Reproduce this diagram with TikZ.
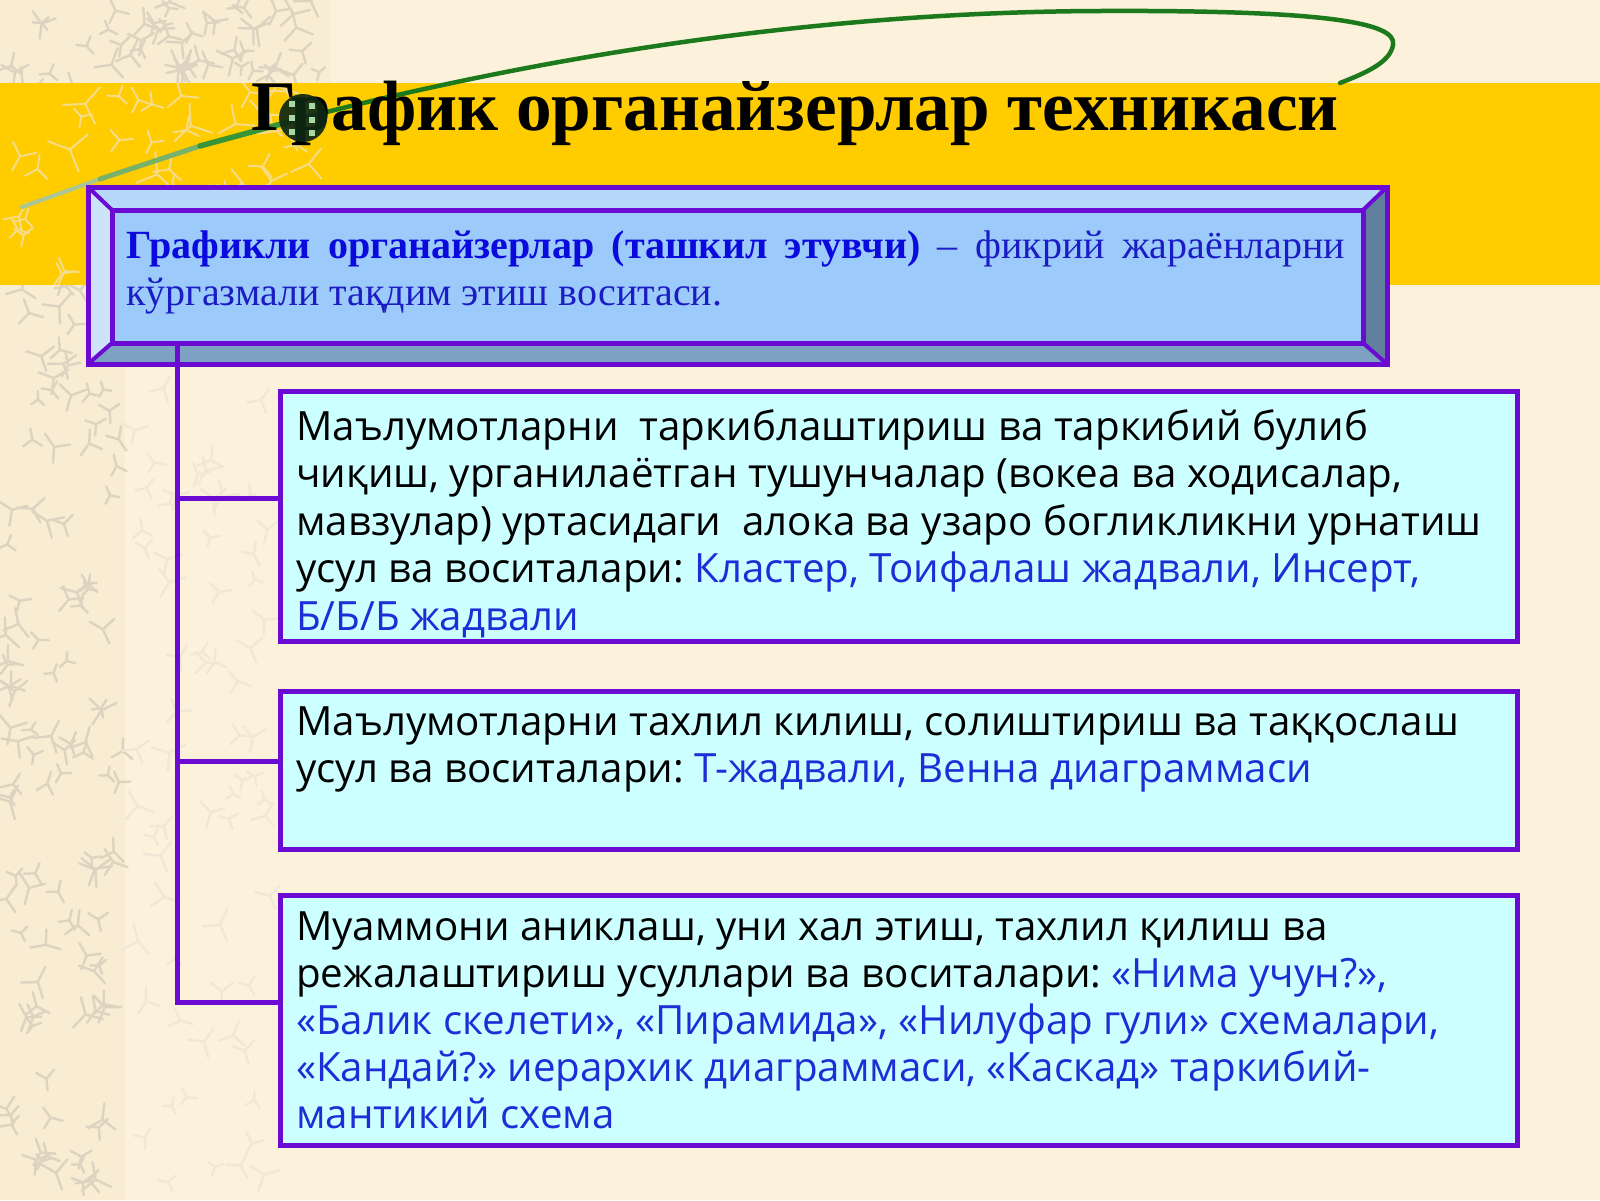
\documentclass[tikz,border=0pt]{standalone}
\usepackage{fontspec}
\setmainfont{Liberation Serif}
\newfontfamily\boxfont{Open Sans}
\frenchspacing
\definecolor{bgcream}{HTML}{FCF1DA}
\definecolor{leftcream}{HTML}{F8ECD2}
\definecolor{texgray}{HTML}{DCD3C1}
\definecolor{texlight}{HTML}{F0E8D7}
\definecolor{texpale}{HTML}{F6DC88}
\definecolor{bandyellow}{HTML}{FFCC00}
\definecolor{purp}{HTML}{6A0AD2}
\definecolor{cyanfill}{HTML}{CCFFFF}
\definecolor{txtblue}{HTML}{1E2ED6}
\definecolor{mainblue}{HTML}{0A0ADC}
\definecolor{mainblue2}{HTML}{1C1CC4}
\definecolor{innerfill}{HTML}{9CCBFB}
\definecolor{bevtop}{HTML}{B6D9FA}
\definecolor{bevleft}{HTML}{CCE3FA}
\definecolor{bevright}{HTML}{607F9C}
\definecolor{bevbottom}{HTML}{7CA1C2}
\definecolor{greenc}{HTML}{1C7A1C}
\definecolor{balldark}{HTML}{0E2814}
\definecolor{ballsq}{HTML}{A6D8A6}
\tikzset{
  infobox/.style={draw=purp, line width=5pt, fill=cyanfill, rectangle, inner sep=0pt, outer sep=0pt, anchor=north west},
  boxline/.style={anchor=base west, inner sep=0pt, text=black, font=\boxfont\fontsize{40.3}{48}\selectfont},
  mainline/.style={anchor=base west, inner sep=0pt, text=mainblue2, font=\fontsize{40}{46}\selectfont},
  conn/.style={draw=purp, line width=5pt},
  texstroke/.style={line width=2.4pt, line cap=round}
}
\begin{document}
\begin{tikzpicture}[x=1pt,y=-1pt]
\useasboundingbox (0,0) rectangle (1600,1200);
% background
\fill[bgcream] (0,0) rectangle (1600,1200);
\fill[leftcream] (0,0) rectangle (125,1200);
\fill[leftcream] (0,0) rectangle (330,83);
% texture (grey figures)
\pgfmathsetseed{12}
\foreach \i in {1,...,150}{
  \pgfmathsetmacro\cx{5+rnd*118}
  \pgfmathsetmacro\cy{rnd*1200}
  \pgfmathsetmacro\aa{rnd*360}
  \pgfmathsetmacro\ab{\aa+100+rnd*40}
  \pgfmathsetmacro\ac{\aa+220+rnd*40}
  \pgfmathsetmacro\ll{8+rnd*10}
  \draw[texgray, texstroke] (\cx,\cy) -- ++(\aa:\ll) (\cx,\cy) -- ++(\ab:\ll) (\cx,\cy) -- ++(\ac:\ll);
}
\foreach \i in {1,...,40}{
  \pgfmathsetmacro\cx{120+rnd*200}
  \pgfmathsetmacro\cy{rnd*80}
  \pgfmathsetmacro\aa{rnd*360}
  \pgfmathsetmacro\ab{\aa+100+rnd*40}
  \pgfmathsetmacro\ac{\aa+220+rnd*40}
  \pgfmathsetmacro\ll{8+rnd*10}
  \draw[texgray, texstroke] (\cx,\cy) -- ++(\aa:\ll) (\cx,\cy) -- ++(\ab:\ll) (\cx,\cy) -- ++(\ac:\ll);
}
\foreach \i in {1,...,70}{
  \pgfmathsetmacro\cx{130+rnd*140}
  \pgfmathsetmacro\cy{290+rnd*900}
  \pgfmathsetmacro\aa{rnd*360}
  \pgfmathsetmacro\ab{\aa+100+rnd*40}
  \pgfmathsetmacro\ac{\aa+220+rnd*40}
  \pgfmathsetmacro\ll{8+rnd*10}
  \draw[texlight, texstroke] (\cx,\cy) -- ++(\aa:\ll) (\cx,\cy) -- ++(\ab:\ll) (\cx,\cy) -- ++(\ac:\ll);
}
% yellow band
\fill[bandyellow] (0,83) rectangle (1600,285);
\begin{scope}
  \clip (0,83) rectangle (330,285);
  \foreach \i in {1,...,60}{
    \pgfmathsetmacro\cx{rnd*330}
    \pgfmathsetmacro\cy{83+rnd*202}
    \pgfmathsetmacro\aa{rnd*360}
    \pgfmathsetmacro\ab{\aa+100+rnd*40}
    \pgfmathsetmacro\ac{\aa+220+rnd*40}
    \pgfmathsetmacro\ll{10+rnd*14}
    \draw[texpale, line width=2pt, line cap=round] (\cx,\cy) -- ++(\aa:\ll) (\cx,\cy) -- ++(\ab:\ll) (\cx,\cy) -- ++(\ac:\ll);
  }
\end{scope}
% green swoosh
\coordinate (sw0) at (22,207);
\coordinate (sw1) at (100,179);
\coordinate (sw2) at (200,146);
\coordinate (ballc) at (303,118);
\coordinate (swtop) at (1100,11);
\coordinate (swright) at (1393,45);
\coordinate (swend) at (1340,83);
\draw[color={rgb,255:red,168;green,198;blue,150}, line width=4pt, line cap=round] (sw0) -- (sw1);
\draw[color={rgb,255:red,120;green,178;blue,105}, line width=5pt, line cap=round] (sw1) -- (sw2);
\draw[color={rgb,255:red,55;green,148;blue,55}, line width=5.5pt, line cap=round] (sw2) -- (ballc);
\draw[greenc, line width=4.5pt, line cap=round] (ballc) .. controls (520,62) and (800,12) .. (swtop)
   .. controls (1320,10) and (1398,22) .. (swright)
   .. controls (1390,62) and (1368,72) .. (swend);
% title
\node[anchor=base, inner sep=0pt, font=\bfseries\fontsize{71.2}{76}\selectfont, text=black] (title) at (795,130) {График органайзерлар техникаси};
% ball (over the title)
\fill[balldark, opacity=0.92] (ballc) circle (24);
\begin{scope}
  \clip (ballc) circle (24);
  \foreach \px/\py in {292/104, 292/118, 292/132, 312/106, 312/120, 312/133}{
    \fill[ballsq] (\px-2.8,\py-2.8) rectangle (\px+2.8,\py+2.8);
  }
\end{scope}
% main bevel box
\coordinate (o1) at (88,187);
\coordinate (o2) at (1387,187);
\coordinate (o3) at (1387,364);
\coordinate (o4) at (88,364);
\coordinate (i1) at (112,210);
\coordinate (i2) at (1363,210);
\coordinate (i3) at (1363,343);
\coordinate (i4) at (112,343);
\fill[bevtop] (o1) -- (o2) -- (i2) -- (i1) -- cycle;
\fill[bevleft] (o1) -- (i1) -- (i4) -- (o4) -- cycle;
\fill[bevright] (o2) -- (o3) -- (i3) -- (i2) -- cycle;
\fill[bevbottom] (o4) -- (o3) -- (i3) -- (i4) -- cycle;
\node[draw=purp, line width=5pt, fill=innerfill, rectangle, inner sep=0pt, outer sep=0pt, anchor=north west, minimum width=1251pt, minimum height=133pt] (mainbox) at (i1) {};
\draw[purp, line width=5pt, line join=miter] (o1) -- (o2) -- (o3) -- (o4) -- cycle;
\draw[purp, line width=4pt] (o1) -- (i1) (o2) -- (i2) (o3) -- (i3) (o4) -- (i4);
\node[mainline] (m1) at (126,258) {\makebox[1219pt][s]{\textcolor{mainblue}{\bfseries Графикли органайзерлар (ташкил этувчи)} – фикрий жараёнларни}};
\node[mainline] (m2) at (126,305) {кўргазмали тақдим этиш воситаси.};
% boxes
\node[infobox, minimum width=1237pt, minimum height=250pt] (b1) at (280,391) {};
\node[infobox, minimum width=1237pt, minimum height=158pt] (b2) at (280,691) {};
\node[infobox, minimum width=1237pt, minimum height=250pt] (b3) at (280,895) {};
% connectors
\coordinate (sp0) at (177,343);
\coordinate (j1) at (177,498);
\coordinate (j2) at (177,761);
\coordinate (j3) at (177,1002);
\draw[conn] (sp0) -- (j3);
\draw[conn] (j1) -- (j1 -| b1.west);
\draw[conn] (j2) -- (j2 -| b2.west);
\draw[conn, line cap=rect] (j3) -- (j3 -| b3.west);
% box texts
\node[boxline] (t11) at (296,440) {Маълумотларни\ \ таркиблаштириш ва таркибий булиб};
\node[boxline] (t12) at (296,487.5) {чиқиш, урганилаётган тушунчалар (вокеа ва ходисалар,};
\node[boxline] (t13) at (296,535) {мавзулар) уртасидаги\ \ алока ва узаро богликликни урнатиш};
\node[boxline] (t14) at (296,582.5) {усул ва воситалари: \textcolor{txtblue}{Кластер, Тоифалаш жадвали, Инсерт,}};
\node[boxline, text=txtblue] (t15) at (296,630) {Б/Б/Б жадвали};
\node[boxline] (t21) at (296,735) {Маълумотларни тахлил килиш, солиштириш ва таққослаш};
\node[boxline] (t22) at (296,782) {усул ва воситалари: \textcolor{txtblue}{Т-жадвали, Венна диаграммаси}};
\node[boxline] (t31) at (296,940) {Муаммони аниклаш, уни хал этиш, тахлил қилиш ва};
\node[boxline] (t32) at (296,987) {режалаштириш усуллари ва воситалари: \textcolor{txtblue}{«Нима учун?»,}};
\node[boxline, text=txtblue] (t33) at (296,1034) {«Балик скелети», «Пирамида», «Нилуфар гули» схемалари,};
\node[boxline, text=txtblue] (t34) at (296,1081) {«Кандай?» иерархик диаграммаси, «Каскад» таркибий-};
\node[boxline, text=txtblue] (t35) at (296,1128) {мантикий схема};
\end{tikzpicture}
\end{document}
